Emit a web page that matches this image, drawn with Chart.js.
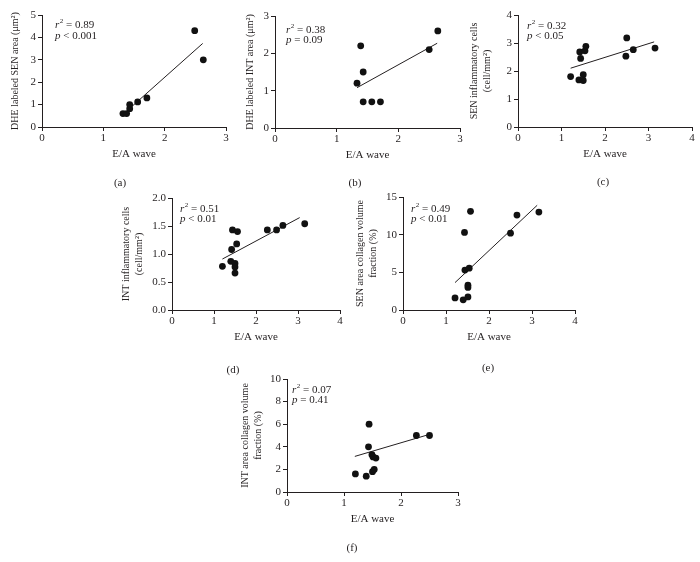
<!DOCTYPE html>
<html>
<head>
<meta charset="utf-8">
<script src="https://cdn.jsdelivr.net/npm/chart.js@4"></script>
<style>
body { margin: 0; background: #fff; }
#wrap { position: relative; width: 700px; height: 562px; }
#wrap canvas { position: absolute; left: 0; top: 0; }
.tag { position: absolute; font: 11px "Liberation Serif", serif; color: #231f20; transform: translate(-50%, -50%); }
</style>
</head>
<body>
<div id="wrap"></div>
<script>
// (a) DHE labeled SEN area vs E/A wave
var aX = [1.32, 1.38, 1.43, 1.43, 1.56, 1.71, 2.49, 2.63];
var aY = [0.6, 0.6, 0.82, 1.0, 1.12, 1.3, 4.3, 3.0];
var aFitX = [1.43, 2.62];
var aFitY = [0.83, 3.73];

// (b) DHE labeled INT area
var bX = [1.33, 1.39, 1.43, 1.43, 1.57, 1.71, 2.5, 2.64];
var bY = [1.2, 2.2, 1.5, 0.7, 0.7, 0.7, 2.1, 2.6];
var bFitX = [1.33, 2.63];
var bFitY = [1.08, 2.27];

// (c) SEN inflammatory cells
var cX = [1.21, 1.4, 1.5, 1.5, 1.44, 1.42, 1.54, 1.56, 2.5, 2.48, 2.65, 3.15];
var cY = [1.8, 1.68, 1.87, 1.66, 2.45, 2.68, 2.72, 2.88, 3.18, 2.53, 2.76, 2.82];
var cFitX = [1.21, 3.13];
var cFitY = [2.1, 3.04];

// (d) INT inflammatory cells
var dX = [1.2, 1.4, 1.5, 1.5, 1.5, 1.42, 1.54, 1.44, 1.56, 2.27, 2.49, 2.64, 3.16];
var dY = [0.78, 0.87, 0.83, 0.77, 0.66, 1.08, 1.18, 1.43, 1.4, 1.43, 1.43, 1.51, 1.54];
var dFitX = [1.2, 3.04];
var dFitY = [0.91, 1.65];

// (e) SEN area collagen volume fraction
var eX = [1.21, 1.4, 1.51, 1.51, 1.51, 1.44, 1.54, 1.43, 1.57, 2.5, 2.65, 3.16];
var eY = [1.6, 1.35, 1.73, 3.3, 3.0, 5.3, 5.55, 10.3, 13.1, 10.2, 12.6, 13.0];
var eFitX = [1.21, 3.12];
var eFitY = [3.64, 13.9];

// (f) INT area collagen volume fraction
var fX = [1.2, 1.39, 1.5, 1.53, 1.49, 1.51, 1.56, 1.43, 1.44, 2.27, 2.5];
var fY = [1.6, 1.4, 1.8, 2.0, 3.3, 3.1, 3.0, 4.0, 6.0, 5.0, 5.0];
var fFitX = [1.19, 2.5];
var fFitY = [3.15, 5.1];

var ink = '#231f20';
var statFont = 11;
var yTitleFont = {size: 10, lineHeight: 1.3};
Chart.defaults.font.family = '"Liberation Serif", serif';
Chart.defaults.font.size = 11;
Chart.defaults.color = ink;

var panels = [
    {tag: '(a)', x: aX, y: aY, fitX: aFitX, fitY: aFitY, xMax: 3, yMax: 5, yStep: 1, dec: 0,
     yTitle: 'DHE labeled SEN area (μm²)', r2: '= 0.89', p: '< 0.001',
     box: [42, 15, 226, 127], titleX: 15, statX: 13, statY: 10.5, tagPos: [120, 182]},
    {tag: '(b)', x: bX, y: bY, fitX: bFitX, fitY: bFitY, xMax: 3, yMax: 3, yStep: 1, dec: 0,
     yTitle: 'DHE labeled INT area (μm²)', r2: '= 0.38', p: '= 0.09',
     box: [275, 16, 460, 128], titleX: 250, statX: 11, statY: 14, tagPos: [355, 182]},
    {tag: '(c)', x: cX, y: cY, fitX: cFitX, fitY: cFitY, xMax: 4, yMax: 4, yStep: 1, dec: 0,
     yTitle: ['SEN inflammatory cells', '(cell/mm²)'], r2: '= 0.32', p: '< 0.05',
     box: [518, 15, 692, 127], titleX: 474, statX: 9, statY: 11, tagPos: [603, 181]},
    {tag: '(d)', x: dX, y: dY, fitX: dFitX, fitY: dFitY, xMax: 4, yMax: 2, yStep: 0.5, dec: 1,
     yTitle: ['INT inflammatory cells', '(cell/mm²)'], r2: '= 0.51', p: '< 0.01',
     box: [172, 198, 340, 310], titleX: 126, statX: 8, statY: 11, tagPos: [233, 369]},
    {tag: '(e)', x: eX, y: eY, fitX: eFitX, fitY: eFitY, xMax: 4, yMax: 15, yStep: 5, dec: 0,
     yTitle: ['SEN area collagen volume', 'fraction (%)'], r2: '= 0.49', p: '< 0.01',
     box: [403, 197, 575, 310], titleX: 360, statX: 8, statY: 12, tagPos: [488, 367]},
    {tag: '(f)', x: fX, y: fY, fitX: fFitX, fitY: fFitY, xMax: 3, yMax: 10, yStep: 2, dec: 0,
     yTitle: ['INT area collagen volume', 'fraction (%)'], r2: '= 0.07', p: '= 0.41',
     box: [287, 379, 458, 492], titleX: 245, statX: 5, statY: 11, tagPos: [352, 547]}
];

function toPoints(xs, ys) {
    var pts = [];
    for (let i = 0; i < xs.length; i++) {
        pts.push({x: xs[i], y: ys[i]});
    }
    return pts;
}

// r^2 / p annotation in the top-left corner of the plot
function statPlugin(pn) {
    return {
        id: 'stat',
        afterDraw: function (chart) {
            var ctx = chart.ctx;
            var area = chart.chartArea;
            var x = area.left + pn.statX;
            var y = area.top + pn.statY;
            var norm = statFont + 'px "Liberation Serif"';
            var ital = 'italic ' + norm;
            ctx.save();
            ctx.fillStyle = ink;
            ctx.textAlign = 'left';
            ctx.textBaseline = 'middle';
            ctx.font = ital;
            ctx.fillText('r', x, y);
            var w = ctx.measureText('r').width;
            ctx.font = '7px "Liberation Serif"';
            ctx.fillText('2', x + w + 0.5, y - 4);
            var w2 = ctx.measureText('2').width;
            ctx.font = norm;
            ctx.fillText(' ' + pn.r2, x + w + 0.5 + w2, y);
            ctx.font = ital;
            ctx.fillText('p', x, y + 10.5);
            w = ctx.measureText('p').width;
            ctx.font = norm;
            ctx.fillText(' ' + pn.p, x + w, y + 10.5);
            ctx.restore();
        }
    };
}

function axisStyle() {
    return {
        grid: {display: true, drawOnChartArea: false, drawTicks: true, tickLength: 4, color: ink, lineWidth: 1},
        border: {display: true, color: ink, width: 1}
    };
}

function makeChart(pn) {
    var wrap = document.getElementById('wrap');
    var canvas = document.createElement('canvas');
    canvas.width = 700;
    canvas.height = 562;
    wrap.appendChild(canvas);

    var L = pn.box[0], T = pn.box[1], R = pn.box[2], B = pn.box[3];
    var padLeft = pn.titleX - yTitleFont.size * yTitleFont.lineHeight / 2;
    var yW = L - padLeft;
    var xH = 34;
    var xs = axisStyle();
    var ys = axisStyle();

    new Chart(canvas, {
        type: 'scatter',
        data: {
            datasets: [
                {data: toPoints(pn.x, pn.y), backgroundColor: '#111', borderColor: '#111', pointRadius: 3.4, borderWidth: 0},
                {type: 'line', data: toPoints(pn.fitX, pn.fitY), borderColor: ink, borderWidth: 1, pointRadius: 0, fill: false}
            ]
        },
        options: {
            responsive: false,
            animation: false,
            devicePixelRatio: 1,
            events: [],
            layout: {padding: {left: padLeft, top: T, right: 700 - R, bottom: 562 - B - xH}},
            plugins: {legend: {display: false}, tooltip: {enabled: false}},
            scales: {
                x: {
                    type: 'linear', min: 0, max: pn.xMax,
                    ticks: {stepSize: 1, padding: 1, maxRotation: 0},
                    grid: xs.grid, border: xs.border,
                    title: {display: true, text: 'E/A wave', padding: 0},
                    afterFit: function (s) { s.height = xH; }
                },
                y: {
                    type: 'linear', min: 0, max: pn.yMax,
                    ticks: {stepSize: pn.yStep, padding: 2, callback: function (v) { return v.toFixed(pn.dec); }},
                    grid: ys.grid, border: ys.border,
                    title: {display: true, text: pn.yTitle, padding: 0, font: yTitleFont},
                    afterFit: function (s) { s.width = yW; }
                }
            }
        },
        plugins: [statPlugin(pn)]
    });

    var tag = document.createElement('div');
    tag.className = 'tag';
    tag.textContent = pn.tag;
    tag.style.left = pn.tagPos[0] + 'px';
    tag.style.top = pn.tagPos[1] + 'px';
    wrap.appendChild(tag);
}

for (let i = 0; i < panels.length; i++) {
    makeChart(panels[i]);
}
</script>
</body>
</html>
